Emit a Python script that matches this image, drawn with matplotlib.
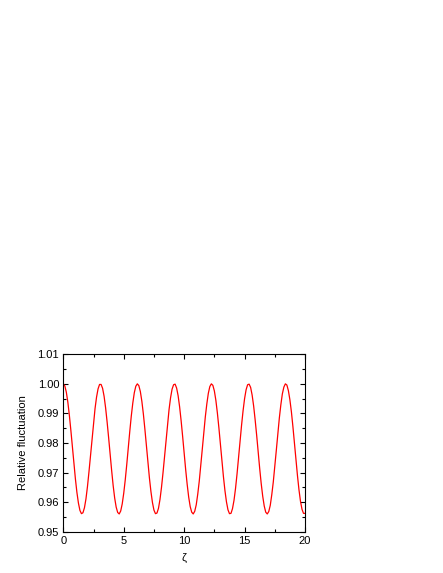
import matplotlib
matplotlib.use("Agg")
import matplotlib.pyplot as plt
from matplotlib.ticker import MultipleLocator, FormatStrFormatter

plt.rcParams['font.family'] = ['Liberation Sans', 'DejaVu Sans']

# zeta sampled every 0.125 from 0 to 20
zeta_start, zeta_step = 0.0, 0.125
fluct = [
    1.0000, 0.9993, 0.9972, 0.9938, 0.9894, 0.9843, 0.9788, 0.9732, 0.9679, 0.9633,
    0.9597, 0.9572, 0.9561, 0.9564, 0.9581, 0.9611, 0.9653, 0.9703, 0.9757, 0.9813,
    0.9868, 0.9916, 0.9955, 0.9983, 0.9998, 0.9998, 0.9985, 0.9958, 0.9919, 0.9871,
    0.9818, 0.9761, 0.9707, 0.9656, 0.9614, 0.9583, 0.9565, 0.9560, 0.9570, 0.9594,
    0.9630, 0.9675, 0.9727, 0.9784, 0.9839, 0.9891, 0.9935, 0.9970, 0.9992, 1.0000,
    0.9994, 0.9974, 0.9941, 0.9898, 0.9847, 0.9792, 0.9736, 0.9682, 0.9636, 0.9599,
    0.9573, 0.9561, 0.9563, 0.9579, 0.9609, 0.9650, 0.9699, 0.9753, 0.9809, 0.9864,
    0.9913, 0.9953, 0.9982, 0.9997, 0.9999, 0.9986, 0.9960, 0.9922, 0.9875, 0.9822,
    0.9765, 0.9710, 0.9660, 0.9617, 0.9585, 0.9566, 0.9560, 0.9569, 0.9591, 0.9627,
    0.9671, 0.9724, 0.9779, 0.9835, 0.9888, 0.9932, 0.9968, 0.9991, 1.0000, 0.9995,
    0.9976, 0.9944, 0.9901, 0.9851, 0.9796, 0.9740, 0.9686, 0.9639, 0.9601, 0.9574,
    0.9561, 0.9562, 0.9578, 0.9606, 0.9646, 0.9695, 0.9750, 0.9805, 0.9860, 0.9909,
    0.9950, 0.9980, 0.9997, 0.9999, 0.9988, 0.9962, 0.9925, 0.9878, 0.9826, 0.9770,
    0.9714, 0.9663, 0.9620, 0.9587, 0.9566, 0.9560, 0.9568, 0.9589, 0.9625, 0.9668,
    0.9720, 0.9775, 0.9831, 0.9884, 0.9929, 0.9966, 0.9989, 1.0000, 0.9996, 0.9977,
    0.9946, 0.9905, 0.9855, 0.9800, 0.9744, 0.9690, 0.9642, 0.9603, 0.9576, 0.9562,
    0.9562,
]
zeta = [zeta_start + i * zeta_step for i in range(len(fluct))]

fig = plt.figure(figsize=(4.43, 5.73), dpi=100)
ax = fig.add_axes([0.1429, 0.0721, 0.5456, 0.3096])

ax.plot(zeta, fluct, color='red', linewidth=0.9)

ax.set_xlim(0, 20)
ax.set_ylim(0.95, 1.01)
ax.xaxis.set_major_locator(MultipleLocator(5))
ax.xaxis.set_minor_locator(MultipleLocator(2.5))
ax.yaxis.set_major_locator(MultipleLocator(0.01))
ax.yaxis.set_minor_locator(MultipleLocator(0.005))
ax.yaxis.set_major_formatter(FormatStrFormatter('%.2f'))

ax.tick_params(which='both', direction='in', top=True, right=True,
               labelsize=8, width=0.8, pad=3)
ax.tick_params(which='major', length=3.5)
ax.tick_params(which='minor', length=2)
for s in ax.spines.values():
    s.set_linewidth(0.8)

ax.set_xlabel('ζ', fontsize=8, labelpad=5)
ax.set_ylabel('Relative fluctuation', fontsize=8, labelpad=7)

fig.savefig('out.png', dpi=100)
